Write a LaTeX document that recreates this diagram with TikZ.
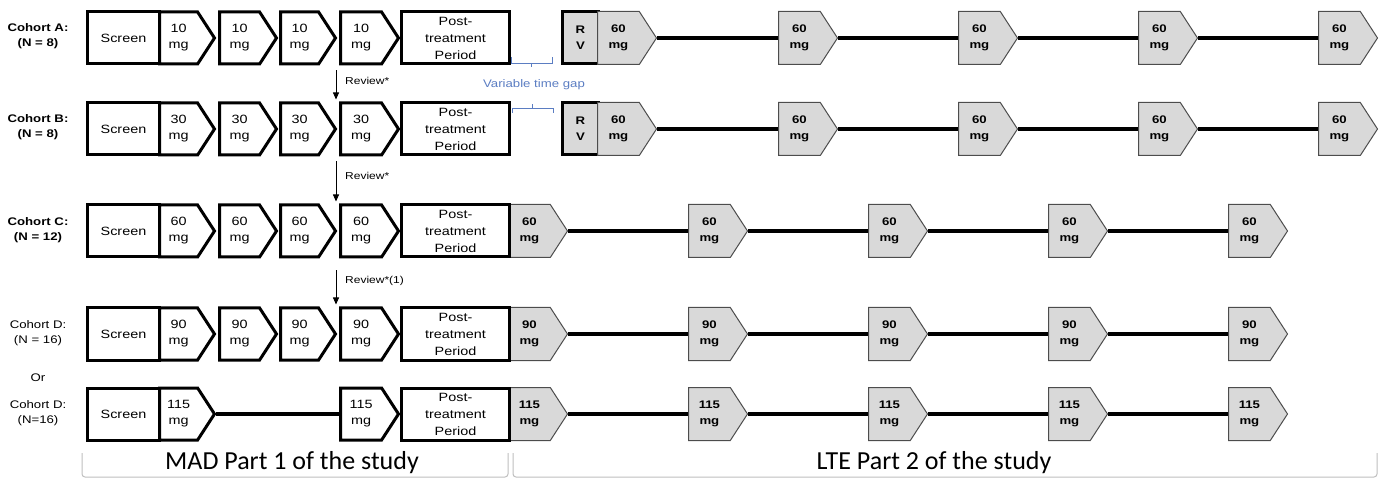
\documentclass[tikz,border=0pt]{standalone}
\usepackage{fontspec}
\setmainfont{Liberation Sans}
\newfontfamily\af[FakeStretch=1.2]{Liberation Sans}
\newfontfamily\cf{Carlito}
\usetikzlibrary{shapes.symbols,arrows.meta,calc}
\definecolor{gfill}{HTML}{D9D9D9}
\definecolor{gapblue}{HTML}{5B7DC2}
\definecolor{brk}{HTML}{BFBFBF}
\begin{document}
\begin{tikzpicture}[x=1pt,y=-1pt,
  every node/.style={font=\af\fontsize{12}{16}\selectfont, align=center, inner sep=0pt},
  lbl/.style={font=\af\bfseries\fontsize{11}{15}\selectfont},
  lblr/.style={font=\af\fontsize{11}{15}\selectfont},
  wbox/.style={draw, line width=3pt, fill=white, rectangle, minimum height=52pt, anchor=west},
  wpent/.style={draw, line width=3pt, fill=white, signal, signal to=east, signal pointer angle=114, minimum height=52pt, minimum width=#1, anchor=west},
  gpent/.style={draw=black!70, line width=1pt, fill=gfill, signal, signal to=east, signal pointer angle=114, minimum height=53pt, minimum width=59pt, anchor=west, font=\af\bfseries\fontsize{11}{16}\selectfont},
  rvbox/.style={draw, line width=3pt, fill=gfill, rectangle, minimum height=52pt, minimum width=36pt, anchor=west, font=\af\bfseries\fontsize{11}{16}\selectfont},
  conn/.style={line width=3.5pt},
  rev/.style={-{Triangle[length=7pt,width=6pt]}, line width=0.8pt},
  revtxt/.style={font=\af\fontsize{10}{12}\selectfont, anchor=west},
  brkline/.style={draw=brk, line width=1pt, rounded corners=3pt},
  gapline/.style={draw=gapblue, line width=0.8pt},
]
\useasboundingbox (0,0) rectangle (1384,478);

% ---- cohort labels
\node[lbl] (labA) at (38,36) {Cohort A:\\(N = 8)};
\node[lbl] (labB) at (38,127) {Cohort B:\\(N = 8)};
\node[lbl] (labC) at (38,230) {Cohort C:\\(N = 12)};
\node[lblr] (labD) at (38,333) {Cohort D:\\(N = 16)};
\node[lblr] (labor) at (38,378) {Or};
\node[lblr] (labE) at (38,413) {Cohort D:\\(N=16)};

% ---- MAD part rows
\foreach \r/\y/\d in {A/38/10, B/129/30, C/231/60, D/334/90}{
  \node[wbox, minimum width=72pt] (\r s) at (86,\y) {Screen};
  \node[wpent=55pt] (\r p1) at (158,\y) {\d\\mg};
  \node[wpent=57pt] (\r p2) at (218,\y) {\d\\mg};
  \node[wpent=55pt] (\r p3) at (279,\y) {\d\\mg};
  \node[wpent=58pt] (\r p4) at (339,\y) {\d\\mg};
}
\node[wbox, minimum width=72pt] (Es) at (86,414) {Screen};
\node[wpent=55pt] (Ep1) at (158,414) {115\\mg};
\node[wpent=58pt] (Ep4) at (339,414) {115\\mg};
\draw[conn] (Ep1.east) -- (Ep4.west);

% ---- LTE part, cohorts C, D (grey pentagons start at the post box)
\foreach \r/\y/\d in {C/231/60, D/334/90, E/414/115}{
  \foreach \i/\x in {1/508, 2/688, 3/868, 4/1048, 5/1228}{
    \node[gpent] (\r g\i) at (\x,\y) {\d\\mg};
  }
  \draw[conn] (\r g1.east) -- (\r g2.west);
  \draw[conn] (\r g2.east) -- (\r g3.west);
  \draw[conn] (\r g3.east) -- (\r g4.west);
  \draw[conn] (\r g4.east) -- (\r g5.west);
}

% ---- post-treatment boxes
\foreach \r/\y in {A/38, B/129, C/231, D/334, E/414}{
  \node[wbox, minimum width=108pt, font=\af\fontsize{12}{17}\selectfont] (\r post) at (400,\y) {Post-\\treatment\\Period};
}

% ---- LTE part, cohorts A, B
\foreach \r/\y in {A/38, B/129}{
  \node[rvbox] (\r rv) at (561,\y) {R\\V};
  \foreach \i/\x in {1/597, 2/778, 3/958, 4/1138, 5/1318}{
    \node[gpent] (\r g\i) at (\x,\y) {60\\mg};
  }
  \draw[conn] (\r g1.east) -- (\r g2.west);
  \draw[conn] (\r g2.east) -- (\r g3.west);
  \draw[conn] (\r g3.east) -- (\r g4.west);
  \draw[conn] (\r g4.east) -- (\r g5.west);
}

% ---- review arrows
\draw[rev] ($(Ap4.west |- Ap4.south)+(-3,5)$) -- ($(Bp4.west |- Bp4.north)+(-3,-2)$);
\node[revtxt] (rev1) at (345,81) {Review*};
\draw[rev] ($(Bp4.west |- Bp4.south)+(-3,5)$) -- ($(Cp4.west |- Cp4.north)+(-3,-2)$);
\node[revtxt] (rev2) at (345,176) {Review*};
\draw[rev] ($(Cp4.west |- Cp4.south)+(-3,12)$) -- ($(Dp4.west |- Dp4.north)+(-3,-2)$);
\node[revtxt] (rev3) at (345,281) {Review*(1)};

% ---- variable time gap
\draw[gapline] (511,57) -- (511,63) -- (552,63) -- (552,57);
\draw[gapline] (531,63) -- (531,67);
\draw[gapline] (512,113) -- (512,108) -- (553,108) -- (553,113);
\draw[gapline] (532,108) -- (532,104);
\node[font=\af\fontsize{11}{13}\selectfont, text=gapblue] (gap) at (534,85) {Variable time gap};

% ---- part brackets
\draw[brkline] (82,453) -- (82,477) -- (508,477) -- (508,453);
\draw[brkline] (513,453) -- (513,477) -- (1377,477) -- (1377,453);
\node[font=\cf\fontsize{26}{28}\selectfont] (mad) at (292,463) {MAD Part 1 of the study};
\node[font=\cf\fontsize{26}{28}\selectfont] (lte) at (934,463) {LTE Part 2 of the study};
\end{tikzpicture}
\end{document}
